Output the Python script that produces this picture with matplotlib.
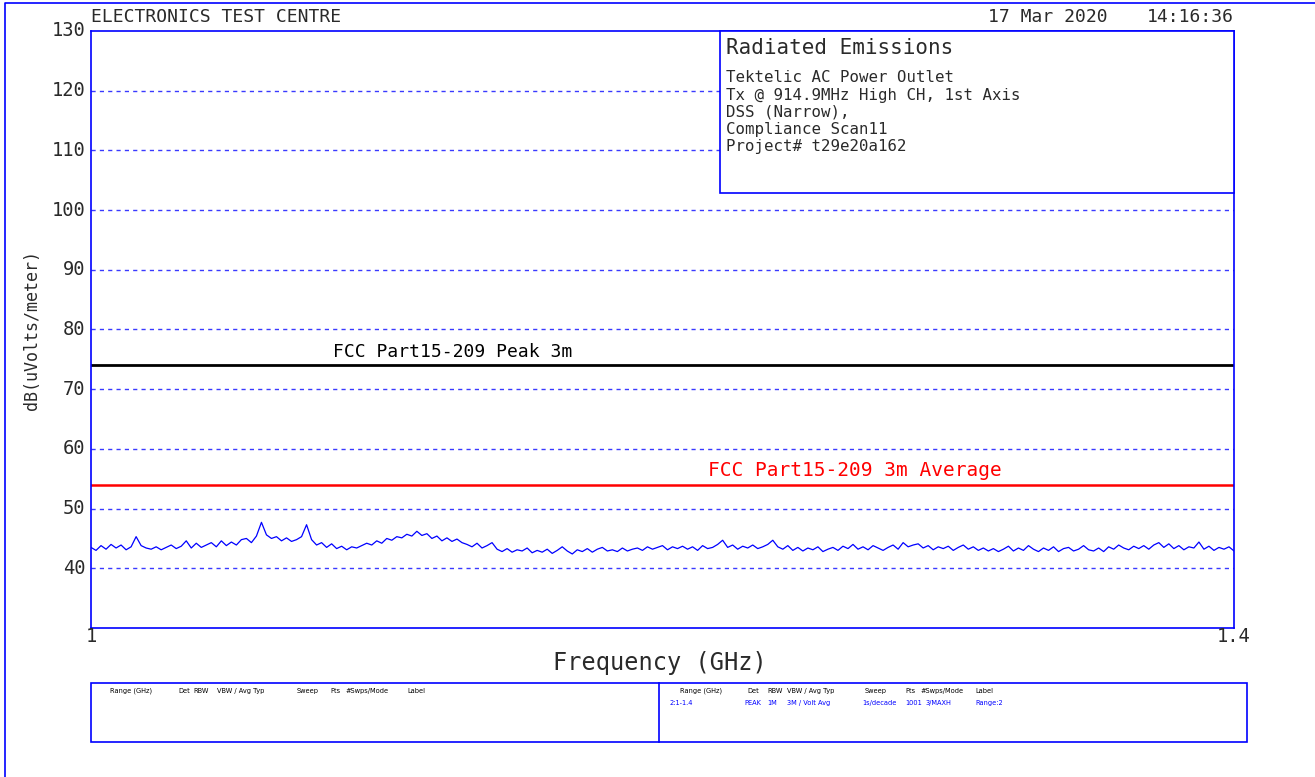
import numpy as np
import matplotlib.pyplot as plt

# разметка осей
y_ticks = [40, 50, 60, 70, 80, 90, 100, 110, 120, 130]
grid_levels = [40, 50, 60, 70, 80, 90, 100, 110, 120]
f_start, f_stop = 1.0, 1.4

# пределы FCC
peak_limit = 74
avg_limit = 54

# измеренный спектр, dB(uV/m), от 1 до 1.4 GHz
trace_db = [
    43.5, 43.0, 43.8, 43.2, 44.0, 43.4, 43.9, 43.1, 43.6, 45.3,
    43.8, 43.4, 43.2, 43.6, 43.1, 43.5, 43.9, 43.3, 43.7, 44.6,
    43.4, 44.2, 43.5, 43.9, 44.3, 43.6, 44.6, 43.8, 44.4, 43.9,
    44.8, 45.0, 44.3, 45.4, 47.7, 45.6, 45.0, 45.3, 44.6, 45.1,
    44.5, 44.8, 45.3, 47.3, 44.8, 43.9, 44.3, 43.5, 44.1, 43.3,
    43.7, 43.1, 43.6, 43.4, 43.8, 44.2, 43.9, 44.6, 44.2, 45.0,
    44.7, 45.3, 45.1, 45.7, 45.4, 46.2, 45.5, 45.8, 45.0, 45.4,
    44.6, 45.1, 44.5, 44.9, 44.3, 44.0, 43.6, 44.2, 43.4, 43.8,
    44.3, 43.2, 42.8, 43.3, 42.7, 43.1, 42.9, 43.4, 42.6, 43.0,
    42.7, 43.2, 42.5, 43.0, 43.6, 42.9, 42.4, 43.1, 42.8, 43.3,
    42.7, 43.2, 43.5, 42.9, 43.1, 42.8, 43.4, 42.9, 43.2, 43.4,
    43.0, 43.6, 43.2, 43.5, 43.8, 43.1, 43.6, 43.3, 43.7, 43.2,
    43.6, 43.0, 43.8, 43.3, 43.5, 44.0, 44.7, 43.5, 43.9, 43.2,
    43.7, 43.4, 43.9, 43.3, 43.6, 44.0, 44.7, 43.6, 43.2, 43.8,
    43.0, 43.5, 42.9, 43.4, 43.1, 43.6, 42.8, 43.2, 43.5, 43.0,
    43.7, 43.3, 44.0, 43.2, 43.6, 43.1, 43.8, 43.4, 43.0, 43.5,
    43.9, 43.2, 44.3, 43.6, 43.9, 44.1, 43.4, 43.8, 43.1, 43.6,
    43.3, 43.7, 43.0, 43.5, 43.9, 43.2, 43.6, 43.0, 43.4, 42.9,
    43.3, 42.8, 43.2, 43.7, 42.9, 43.4, 43.0, 43.8, 43.2, 42.8,
    43.4, 43.0, 43.6, 42.8, 43.3, 43.5, 42.9, 43.2, 43.8, 43.1,
    42.9, 43.4, 42.8, 43.6, 43.2, 43.9, 43.4, 43.1, 43.7, 43.3,
    43.8, 43.2, 43.9, 44.3, 43.5, 44.1, 43.3, 43.8, 43.1, 43.6,
    43.4, 44.4, 43.2, 43.7, 43.0, 43.5, 43.2, 43.6, 42.9,
]

# тексты
info_lines = ["Tektelic AC Power Outlet",
              "Tx @ 914.9MHz High CH, 1st Axis",
              "DSS (Narrow),",
              "Compliance Scan11",
              "Project# t29e20a162"]
hdr_names = ["Range (GHz)", "Det", "RBW", "VBW / Avg Typ", "Sweep", "Pts", "#Swps/Mode", "Label"]
hdr_x_left = [110, 178, 193, 217, 297, 330, 345, 407]
hdr_x_right = [680, 747, 767, 787, 865, 905, 920, 975]
row_vals = ["2:1-1.4", "PEAK", "1M", "3M / Volt Avg", "1s/decade", "1001", "3/MAXH", "Range:2"]
row_x = [670, 744, 767, 787, 862, 905, 926, 975]

W, H = 1315, 777
BLUE = '#0000ff'
MONO = 'DejaVu Sans Mono'
TXT = '#2a2a2a'


def fx(px):
    return px / W


def fy(py):
    return 1 - py / H


fig = plt.figure(figsize=(W / 100, H / 100), dpi=100)
ax = fig.add_axes([fx(91), fy(628), fx(1234) - fx(91), fy(31) - fy(628)])

freq = np.linspace(f_start, f_stop, len(trace_db))
ax.plot(freq, trace_db, color=BLUE, lw=0.9)

for g in grid_levels:
    ax.axhline(g, color='#3a3aff', lw=1, ls=(0, (3, 3)))
ax.axhline(peak_limit, color='black', lw=2)
ax.axhline(avg_limit, color='#ff0000', lw=1.8)

ax.set_xlim(f_start, f_stop)
ax.set_ylim(30, 130)
ax.set_xticks([])
ax.set_yticks([])
for s in ax.spines.values():
    s.set_color(BLUE)
    s.set_linewidth(1.2)

# подписи оси Y
for t in y_ticks:
    ax.text(-0.005, t, str(t), transform=ax.get_yaxis_transform(),
            ha='right', va='center', fontsize=13.5, family=MONO, color=TXT)
fig.text(fx(91), fy(637), "1", ha='center', va='center', fontsize=13.5, family=MONO, color=TXT)
fig.text(fx(1234), fy(637), "1.4", ha='center', va='center', fontsize=13.5, family=MONO, color=TXT)
fig.text(fx(660), fy(663), "Frequency (GHz)", ha='center', va='center', fontsize=17, family=MONO, color=TXT)
fig.text(fx(32), fy(330), "dB(uVolts/meter)", rotation=90, ha='center', va='center',
         fontsize=12, family=MONO, color=TXT)

# подписи пределов
ax.text(1.0 + (333 - 91) / 1143 * 0.4, peak_limit + 0.8, "FCC Part15-209 Peak 3m",
        ha='left', va='bottom', fontsize=13, family=MONO, color='black')
ax.text(1.0 + (708 - 91) / 1143 * 0.4, avg_limit + 0.8, "FCC Part15-209 3m Average",
        ha='left', va='bottom', fontsize=14, family=MONO, color='#ff0000')

# заголовок
fig.text(fx(91), fy(17), "ELECTRONICS TEST CENTRE", ha='left', va='center', fontsize=13, family=MONO, color=TXT)
fig.text(fx(988), fy(17), "17 Mar 2020", ha='left', va='center', fontsize=13, family=MONO, color=TXT)
fig.text(fx(1234), fy(17), "14:16:36", ha='right', va='center', fontsize=13, family=MONO, color=TXT)

# блок описания (белый фон закрывает сетку)
box = plt.Rectangle((fx(720), fy(193)), fx(1234) - fx(720), fy(31) - fy(193),
                    transform=fig.transFigure, facecolor='white', edgecolor=BLUE, lw=1.2, zorder=1)
fig.add_artist(box)
fig.text(fx(726), fy(48), "Radiated Emissions", ha='left', va='center', fontsize=15, family=MONO, color=TXT)
for i, line in enumerate(info_lines):
    fig.text(fx(726), fy(78 + 17.2 * i), line, ha='left', va='center', fontsize=11.3, family=MONO, color=TXT)

# таблица настроек
tbl = plt.Rectangle((fx(91), fy(742)), fx(1247) - fx(91), fy(683) - fy(742),
                    transform=fig.transFigure, fill=False, edgecolor=BLUE, lw=1.2)
fig.add_artist(tbl)
fig.add_artist(plt.Line2D([fx(659), fx(659)], [fy(683), fy(742)], transform=fig.transFigure, color=BLUE, lw=1.2))
for name, x in zip(hdr_names, hdr_x_left):
    fig.text(fx(x), fy(691), name, ha='left', va='center', fontsize=4.8, color='black')
for name, x in zip(hdr_names, hdr_x_right):
    fig.text(fx(x), fy(691), name, ha='left', va='center', fontsize=4.8, color='black')
for v, x in zip(row_vals, row_x):
    fig.text(fx(x), fy(703), v, ha='left', va='center', fontsize=4.8, color=BLUE)

# внешняя рамка
fig.add_artist(plt.Line2D([fx(5), fx(5), 1], [0, fy(3), fy(3)], transform=fig.transFigure, color=BLUE, lw=1.2))

fig.savefig("out.png", dpi=100)
